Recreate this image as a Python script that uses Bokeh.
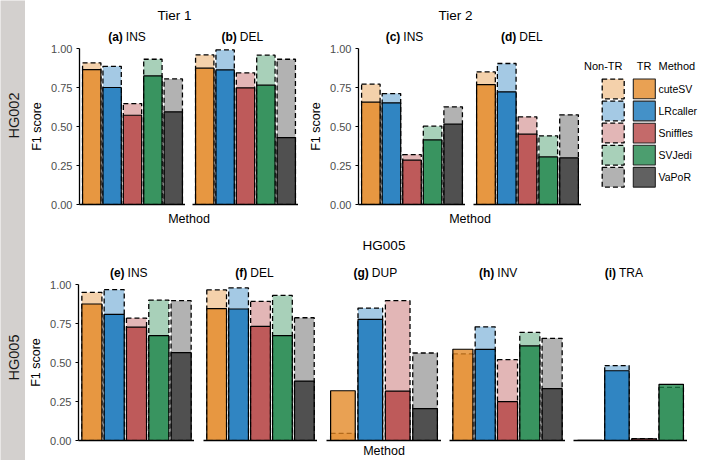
import math
from bokeh.plotting import figure
from bokeh.layouts import row, column
from bokeh.models import Range1d, FixedTicker, NumeralTickFormatter, ColumnDataSource
from bokeh.core.properties import value
from bokeh.embed import file_html
from bokeh.resources import INLINE

FONT = "Liberation Sans"

# ---------------- data ----------------
methods = ["cuteSV", "LRcaller", "Sniffles", "SVJedi", "VaPoR"]
method_colors = ["#E38622", "#0F72B8", "#B44040", "#198347", "#343434"]

# HG002 Tier 1
a_methods = methods
a_tr = [0.865, 0.750, 0.572, 0.824, 0.594]
a_non = [0.908, 0.886, 0.647, 0.931, 0.805]
b_methods = methods
b_tr = [0.874, 0.863, 0.748, 0.765, 0.429]
b_non = [0.959, 0.991, 0.844, 0.957, 0.931]
# HG002 Tier 2
c_methods = methods
c_tr = [0.656, 0.652, 0.284, 0.414, 0.515]
c_non = [0.771, 0.711, 0.320, 0.502, 0.626]
d_methods = methods
d_tr = [0.769, 0.722, 0.451, 0.305, 0.299]
d_non = [0.850, 0.904, 0.562, 0.440, 0.575]
# HG005
e_methods = methods
e_tr = [0.875, 0.808, 0.727, 0.672, 0.563]
e_non = [0.949, 0.967, 0.785, 0.900, 0.896]
f_methods = methods
f_tr = [0.845, 0.843, 0.731, 0.672, 0.381]
f_non = [0.965, 0.978, 0.892, 0.930, 0.787]
g_methods = ["cuteSV", "LRcaller", "Sniffles", "VaPoR"]
g_tr = [0.319, 0.776, 0.317, 0.204]
g_non = [0.046, 0.849, 0.896, 0.561]
h_methods = methods
h_tr = [0.585, 0.584, 0.249, 0.606, 0.332]
h_non = [0.555, 0.729, 0.518, 0.693, 0.655]
i_methods = ["cuteSV", "LRcaller", "Sniffles", "SVJedi"]
i_tr = [0.0, 0.447, 0.010, 0.360]
i_non = [0.0, 0.480, 0.012, 0.340]

y_ticks = [0.0, 0.25, 0.5, 0.75, 1.0]

TR_ALPHA = 0.78
NON_ALPHA = 0.38
FRAME_H = 156


def color_of(m):
    return method_colors[methods.index(m)]


def base_fig(**kw):
    p = figure(output_backend="svg", toolbar_location=None, title=None, **kw)
    p.xgrid.visible = False
    p.ygrid.visible = False
    p.outline_line_color = None
    return p


def text_fig(w, h, x0, y0):
    # a figure whose data coordinates equal page pixel coordinates (y downward)
    p = base_fig(width=w, height=h, x_range=Range1d(x0, x0 + w), y_range=Range1d(y0 + h, y0),
                 min_border_left=0, min_border_right=0, min_border_top=0, min_border_bottom=0)
    p.axis.visible = False
    p.background_fill_color = None
    p.border_fill_color = None
    return p


def panel(meths, tr, non, frame_w, left, top, bottom, yaxis, xlabel=None):
    n = len(meths)
    p = base_fig(frame_width=frame_w, frame_height=FRAME_H,
                 x_range=Range1d(0.4, n + 0.6), y_range=Range1d(0, 1),
                 min_border_left=left, min_border_right=0,
                 min_border_top=top, min_border_bottom=bottom)
    src = ColumnDataSource(dict(x=list(range(1, n + 1)), tr=tr, non=non,
                                color=[color_of(m) for m in meths]))
    p.vbar(x="x", top="non", width=0.9, source=src, fill_color="color", fill_alpha=NON_ALPHA,
           line_color="black", line_dash="5 3", line_width=1.3)
    p.vbar(x="x", top="tr", width=0.9, source=src, fill_color="color", fill_alpha=TR_ALPHA,
           line_color="black", line_width=1.2)
    xa = p.xaxis[0]
    xa.ticker = FixedTicker(ticks=[])
    xa.major_label_text_font_size = "0px"
    xa.major_tick_out = 0
    xa.major_tick_in = 0
    xa.minor_tick_line_color = None
    xa.major_tick_line_color = None
    xa.major_label_standoff = 0
    xa.axis_line_width = 1.3
    xa.axis_line_color = "black"
    if xlabel:
        xa.axis_label = xlabel
        xa.axis_label_text_font = FONT
        xa.axis_label_text_font_size = "12.5px"
        xa.axis_label_text_font_style = "normal"
        xa.axis_label_text_color = "black"
        xa.axis_label_standoff = 3
    ya = p.yaxis[0]
    if yaxis:
        ya.ticker = FixedTicker(ticks=y_ticks)
        ya.formatter = NumeralTickFormatter(format="0.00")
        ya.major_tick_out = 3
        ya.major_tick_in = 0
        ya.minor_tick_line_color = None
        ya.major_tick_line_width = 1.2
        ya.axis_line_width = 1.3
        ya.axis_line_color = "black"
        ya.major_label_standoff = 4
        ya.major_label_text_font = FONT
        ya.major_label_text_font_size = "11px"
        ya.major_label_text_color = "#4D4D4D"
        ya.axis_label = "F1 score"
        ya.axis_label_text_font = FONT
        ya.axis_label_text_font_size = "12.5px"
        ya.axis_label_text_font_style = "normal"
        ya.axis_label_text_color = "black"
        ya.axis_label_standoff = 4
    else:
        ya.visible = False
    return p


def add_text(p, x, y, t, size, bold=False, align="center", baseline="middle", angle=0.0, color="black"):
    p.text(x=[x], y=[y], text=[t], text_font=value(FONT), text_font_size=value(size),
           text_font_style="bold" if bold else "normal", text_align=align,
           text_baseline=baseline, angle=angle, text_color=color)


def subtitle(p, xsplit, y, tag, name):
    add_text(p, xsplit - 1.2, y, tag, "12px", bold=True, align="right")
    add_text(p, xsplit + 1.8, y, name, "12px", align="left")


# ---------------- strip ----------------
strip = text_fig(25, 460, 0, 0)
strip.background_fill_color = "#D3D0CE"
strip.border_fill_color = "#D3D0CE"
add_text(strip, 13, 115, "HG002", "14.5px", angle=math.pi / 2, color="#1A1A1A")
add_text(strip, 13, 357, "HG005", "14.5px", angle=math.pi / 2, color="#1A1A1A")

# ---------------- top titles ----------------
top_titles = text_fig(685, 44, 25, 0)
add_text(top_titles, 174, 15, "Tier 1", "13.5px")
add_text(top_titles, 455, 15, "Tier 2", "13.5px")
subtitle(top_titles, 123.5, 36.5, "(a)", "INS")
subtitle(top_titles, 237.5, 36.5, "(b)", "DEL")
subtitle(top_titles, 401.0, 36.5, "(c)", "INS")
subtitle(top_titles, 517.0, 36.5, "(d)", "DEL")

# ---------------- top panels ----------------
pa = panel(a_methods, a_tr, a_non, 106, 54, 4, 6, True)
pb = panel(b_methods, b_tr, b_non, 106, 7, 4, 6, False)
pc = panel(c_methods, c_tr, c_non, 107, 60, 4, 6, True)
pd_ = panel(d_methods, d_tr, d_non, 108, 8, 4, 6, False)

# legend
leg = text_fig(129, 166, 581, 44)
row_y = [87 + 23.5 * k for k in range(len(methods))]
leg.rect(x=[612.7] * len(methods), y=row_y, width=22, height=21, fill_color=method_colors,
         fill_alpha=NON_ALPHA, line_color="black", line_dash="5 3", line_width=1.3)
leg.rect(x=[643.8] * len(methods), y=row_y, width=22, height=21, fill_color=method_colors,
         fill_alpha=TR_ALPHA, line_color="#222222", line_width=1.1)
leg.text(x=[658] * len(methods), y=row_y, text=methods, text_font=value(FONT),
         text_font_size=value("10.5px"), text_align="left", text_baseline="middle", text_color="black")
add_text(leg, 622, 63, "Non-TR", "11px", align="right")
add_text(leg, 643.5, 63, "TR", "11px")
add_text(leg, 658, 63, "Method", "11px", align="left")

top_row = row(pa, pb, pc, pd_, leg, spacing=0)

# ---------------- middle texts ----------------
mid = text_fig(685, 70, 25, 210)
add_text(mid, 188.5, 218.4, "Method", "12.5px")
add_text(mid, 469.5, 218.4, "Method", "12.5px")
add_text(mid, 383.5, 245, "HG005", "13.5px")
subtitle(mid, 125.3, 272.7, "(e)", "INS")
subtitle(mid, 248.0, 272.7, "(f)", "DEL")
subtitle(mid, 369.5, 272.7, "(g)", "DUP")
subtitle(mid, 495.0, 272.7, "(h)", "INV")
subtitle(mid, 616.7, 272.7, "(i)", "TRA")

# ---------------- bottom panels ----------------
pe = panel(e_methods, e_tr, e_non, 116, 53, 4, 20, True)
pf = panel(f_methods, f_tr, f_non, 114, 9, 4, 20, False)
pg = panel(g_methods, g_tr, g_non, 115, 9, 4, 20, False, xlabel="Method")
ph = panel(h_methods, h_tr, h_non, 116, 8, 4, 20, False)
pi_ = panel(i_methods, i_tr, i_non, 114, 8, 4, 20, False)
bottom_row = row(pe, pf, pg, ph, pi_, spacing=0)

right = column(top_titles, top_row, mid, bottom_row, spacing=0)
p = row(strip, right, spacing=0)

open("out.html", "w").write(file_html(p, INLINE))
